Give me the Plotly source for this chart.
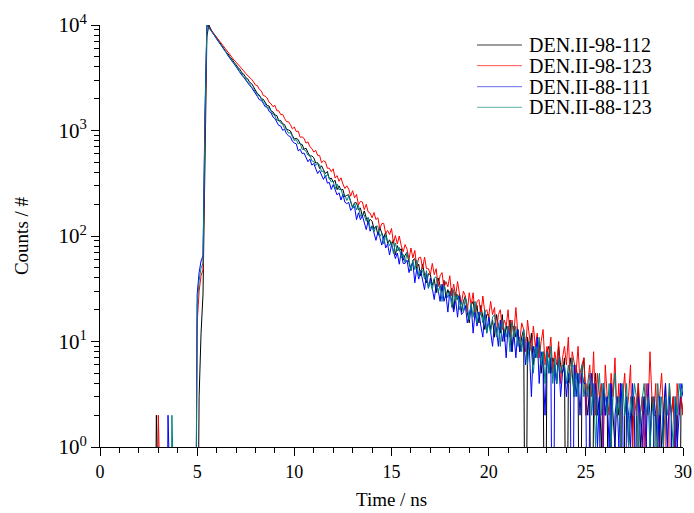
import plotly.graph_objects as go

# Time channels (ns): 0.1 ns bins from 0.0 to 30.0
STEP_NS = 0.1

# Photon counts per channel, one row per nanosecond (10 channels); last value = 30.0 ns
black_counts = [
    0, 0, 0, 0, 0, 0, 0, 0, 0, 0,
    0, 0, 0, 0, 0, 0, 0, 0, 0, 0,
    0, 0, 0, 0, 0, 0, 0, 0, 0, 2,
    0, 0, 0, 0, 0, 0, 0, 0, 0, 0,
    0, 0, 0, 0, 0, 0, 0, 0, 0, 0,
    0, 3, 12, 28, 600, 7800, 9990, 9120, 8430, 8050,
    7560, 7010, 6700, 6220, 5950, 5510, 5300, 4920, 4740, 4400,
    4230, 3930, 3810, 3520, 3420, 3170, 3090, 2860, 2790, 2590,
    2428, 2234, 2171, 1989, 1980, 1845, 1725, 1706, 1535, 1501,
    1402, 1386, 1231, 1243, 1161, 1134, 1025, 1012, 990, 898,
    829, 843, 819, 743, 737, 662, 681, 617, 567, 575,
    552, 492, 495, 436, 463, 424, 391, 409, 347, 354,
    325, 337, 275, 299, 273, 276, 234, 243, 246, 210,
    187, 207, 206, 177, 184, 154, 173, 149, 132, 144,
    138, 117, 124, 103, 120, 107, 96, 109, 85, 92,
    82, 92, 66, 81, 72, 76, 59, 66, 70, 56,
    47, 59, 61, 49, 54, 42, 54, 43, 36, 44,
    43, 34, 39, 29, 40, 34, 30, 38, 26, 31,
    27, 32, 20, 29, 25, 28, 19, 24, 27, 19,
    15, 22, 24, 18, 22, 15, 22, 17, 13, 18,
    18, 13, 16, 11, 18, 14, 12, 18, 10, 14,
    12, 16, 8, 14, 11, 13, 8, 11, 13, 0,
    11, 8, 12, 6, 9, 7, 10, 5, 8, 0,
    8, 9, 5, 7, 6, 4, 9, 6, 5, 7,
    0, 4, 7, 5, 3, 6, 4, 0, 5, 7,
    3, 2, 4, 0, 3, 5, 2, 3, 1, 4,
    2, 3, 0, 4, 2, 1, 3, 2, 4, 0,
    2, 3, 1, 2, 3, 0, 2, 4, 1, 2,
    3, 2, 0, 1, 3, 2, 2, 0, 3, 1,
    2, 4, 1, 0, 2, 3, 1, 2, 0, 3,
    2,
]

red_counts = [
    0, 0, 0, 0, 0, 0, 0, 0, 0, 0,
    0, 0, 0, 0, 0, 0, 0, 0, 0, 0,
    0, 0, 0, 0, 0, 0, 0, 0, 0, 0,
    2, 0, 0, 0, 0, 0, 0, 0, 0, 0,
    0, 0, 0, 0, 0, 0, 0, 0, 0, 0,
    15, 30, 42, 48, 900, 9900, 9560, 9150, 8600, 8090,
    7650, 7160, 6810, 6370, 6060, 5690, 5470, 5130, 4930, 4650,
    4450, 4210, 4030, 3810, 3660, 3470, 3340, 3150, 3050, 2890,
    2697, 2661, 2450, 2374, 2147, 2116, 2034, 1850, 1794, 1680,
    1734, 1540, 1536, 1413, 1422, 1299, 1213, 1209, 1138, 1036,
    1078, 977, 985, 863, 871, 842, 759, 781, 701, 675,
    623, 650, 581, 580, 496, 515, 506, 439, 440, 408,
    433, 354, 374, 330, 356, 311, 282, 299, 278, 239,
    269, 230, 248, 197, 213, 210, 178, 200, 169, 165,
    149, 167, 143, 149, 117, 131, 132, 106, 113, 103,
    118, 86, 101, 84, 100, 81, 71, 83, 75, 60,
    77, 62, 73, 51, 62, 63, 49, 63, 49, 49,
    43, 55, 43, 49, 33, 42, 45, 32, 37, 33,
    42, 27, 35, 27, 37, 28, 23, 30, 27, 19,
    29, 22, 29, 18, 24, 25, 18, 27, 19, 20,
    17, 24, 18, 21, 12, 18, 20, 13, 16, 14,
    20, 11, 16, 12, 21, 12, 10, 15, 13, 8,
    16, 11, 8, 14, 9, 12, 7, 10, 13, 6,
    9, 7, 11, 5, 8, 6, 10, 4, 7, 9,
    6, 11, 4, 8, 6, 5, 9, 4, 6, 7,
    2, 4, 6, 3, 8, 2, 5, 3, 4, 1,
    6, 3, 2, 5, 3, 7, 2, 4, 1, 3,
    5, 2, 3, 6, 1, 3, 2, 4, 2, 3,
    1, 4, 2, 8, 3, 2, 4, 1, 3, 5,
    2, 3, 0, 4, 2, 3, 1, 4, 2, 3,
    2,
]

blue_counts = [
    0, 0, 0, 0, 0, 0, 0, 0, 0, 0,
    0, 0, 0, 0, 0, 0, 0, 0, 0, 0,
    0, 0, 0, 0, 0, 0, 0, 0, 0, 0,
    0, 0, 0, 0, 0, 2, 0, 0, 0, 0,
    0, 0, 0, 0, 0, 0, 0, 0, 0, 0,
    28, 45, 58, 65, 1500, 9950, 9500, 9000, 8420, 7880,
    7380, 6970, 6510, 6170, 5740, 5440, 5070, 4830, 4490, 4280,
    4030, 3750, 3580, 3340, 3190, 2980, 2850, 2670, 2550, 2400,
    2276, 2099, 1955, 1933, 1812, 1678, 1673, 1518, 1475, 1343,
    1296, 1201, 1115, 1104, 1005, 1026, 929, 892, 873, 791,
    760, 748, 640, 665, 603, 612, 555, 506, 535, 470,
    486, 431, 391, 417, 385, 344, 373, 317, 322, 276,
    307, 274, 245, 257, 219, 249, 209, 203, 208, 175,
    186, 190, 143, 166, 143, 156, 133, 115, 139, 111,
    125, 104, 91, 108, 97, 82, 99, 77, 84, 66,
    83, 72, 61, 69, 54, 71, 55, 55, 59, 45,
    52, 56, 36, 49, 39, 47, 38, 31, 44, 32,
    40, 31, 25, 35, 31, 24, 35, 24, 28, 19,
    30, 24, 19, 25, 17, 27, 18, 19, 22, 15,
    19, 22, 12, 19, 14, 19, 14, 11, 19, 12,
    17, 12, 9, 15, 13, 9, 16, 10, 13, 7,
    14, 11, 8, 12, 7, 13, 8, 9, 11, 6,
    10, 8, 3, 9, 7, 11, 4, 8, 6, 2,
    8, 5, 7, 0, 6, 4, 7, 3, 5, 6,
    3, 5, 4, 0, 6, 3, 5, 2, 5, 4,
    4, 0, 3, 5, 2, 4, 1, 3, 0, 4,
    2, 3, 1, 4, 0, 2, 3, 1, 4, 2,
    0, 3, 2, 1, 4, 2, 0, 3, 2, 1,
    3, 1, 4, 2, 0, 3, 2, 1, 3, 0,
    2, 4, 1, 3, 2, 0, 3, 1, 2, 4,
    3,
]

teal_counts = [
    0, 0, 0, 0, 0, 0, 0, 0, 0, 0,
    0, 0, 0, 0, 0, 0, 0, 0, 0, 0,
    0, 0, 0, 0, 0, 0, 0, 0, 0, 0,
    0, 0, 0, 0, 0, 0, 0, 2, 0, 0,
    0, 0, 0, 0, 0, 0, 0, 0, 0, 0,
    22, 38, 50, 55, 1200, 9980, 9450, 8980, 8440, 7920,
    7390, 7050, 6530, 6250, 5760, 5500, 5090, 4900, 4530, 4340,
    4010, 3870, 3570, 3460, 3190, 3100, 2850, 2780, 2560, 2490,
    2313, 2154, 2126, 2041, 1849, 1804, 1640, 1638, 1529, 1427,
    1380, 1247, 1271, 1170, 1148, 1044, 1025, 943, 956, 884,
    801, 820, 747, 760, 665, 659, 638, 583, 590, 515,
    509, 465, 485, 474, 408, 414, 358, 385, 353, 325,
    330, 279, 311, 274, 280, 241, 246, 217, 238, 214,
    183, 204, 177, 195, 154, 160, 158, 138, 151, 118,
    124, 109, 124, 124, 99, 106, 84, 101, 90, 81,
    88, 68, 86, 72, 78, 62, 67, 56, 69, 60,
    47, 59, 48, 59, 41, 47, 47, 39, 47, 32,
    37, 31, 40, 41, 29, 34, 24, 34, 30, 26,
    30, 21, 31, 24, 28, 20, 24, 19, 26, 22,
    16, 23, 17, 24, 15, 18, 19, 15, 20, 12,
    15, 12, 17, 18, 11, 15, 9, 16, 13, 11,
    14, 8, 15, 11, 14, 9, 11, 8, 13, 10,
    6, 10, 8, 5, 9, 7, 11, 6, 8, 4,
    8, 5, 9, 4, 7, 4, 7, 5, 6, 6,
    4, 6, 4, 7, 3, 5, 3, 5, 6, 3,
    4, 3, 5, 2, 4, 1, 3, 5, 2, 4,
    3, 2, 4, 1, 3, 5, 2, 3, 1, 4,
    2, 4, 1, 3, 2, 4, 3, 1, 2, 3,
    4, 2, 3, 1, 2, 3, 0, 4, 2, 3,
    1, 3, 2, 4, 2, 1, 3, 2, 4, 3,
    4,
]

series_names = ["DEN.II-98-112", "DEN.II-98-123", "DEN.II-88-111", "DEN.II-88-123"]
series_counts = [black_counts, red_counts, blue_counts, teal_counts]
series_colors = ["#000000", "#ff0000", "#0000ff", "#008080"]
legend_line_colors = ["#3a3a3a", "#ff5050", "#6a6af0", "#5fb0aa"]

x_tick_vals = [0, 5, 10, 15, 20, 25, 30]
y_tick_vals = [1, 10, 100, 1000, 10000]
y_tick_text = ["10<sup>0</sup>", "10<sup>1</sup>", "10<sup>2</sup>", "10<sup>3</sup>", "10<sup>4</sup>"]

FONT = "Liberation Serif, Times New Roman, serif"

fig = go.Figure()
for name, counts, color in zip(series_names, series_counts, series_colors):
    t = [round(i * STEP_NS, 1) for i in range(len(counts))]
    # zero counts sit at log(0): drawn running below the axis floor
    y = [c if c > 0 else 0.01 for c in counts]
    fig.add_trace(go.Scatter(x=t, y=y, mode="lines", name=name,
                             line=dict(color=color, width=1)))

# legend drawn in paper coordinates (compact row spacing like the reference)
legend_rows_y = [0.9526, 0.9036, 0.8538, 0.805]
for name, color, ly in zip(series_names, legend_line_colors, legend_rows_y):
    fig.add_shape(type="line", xref="paper", yref="paper",
                  x0=0.6467, x1=0.7238, y0=ly, y1=ly,
                  line=dict(color=color, width=1))
    fig.add_annotation(xref="paper", yref="paper", x=0.7324, y=ly,
                       xanchor="left", yanchor="middle", showarrow=False,
                       text=name, font=dict(family=FONT, size=20, color="black"))

fig.update_layout(
    width=694, height=513,
    margin=dict(l=100, r=11, t=25, b=66),
    paper_bgcolor="white", plot_bgcolor="white",
    font=dict(family=FONT, size=18, color="black"),
    showlegend=False,
)
fig.update_xaxes(
    range=[0, 30], tickvals=x_tick_vals, automargin=False,
    showline=True, linecolor="black", linewidth=1,
    ticks="outside", ticklen=8, tickcolor="black",
    tickfont=dict(family=FONT, size=18),
    minor=dict(ticks="outside", dtick=1, ticklen=5, tickcolor="black"),
    showgrid=False, zeroline=False,
    title=dict(text="Time / ns", font=dict(family=FONT, size=19), standoff=12),
)
fig.update_yaxes(
    type="log", range=[0, 4], tickvals=y_tick_vals, ticktext=y_tick_text,
    automargin=False,
    showline=True, linecolor="black", linewidth=1,
    ticks="outside", ticklen=8, tickcolor="black",
    tickfont=dict(family=FONT, size=21),
    minor=dict(ticks="outside", dtick="D1", ticklen=5, tickcolor="black"),
    showgrid=False, zeroline=False,
    title=dict(text="Counts / #", font=dict(family=FONT, size=19), standoff=24),
)

fig.write_html("out.html")
